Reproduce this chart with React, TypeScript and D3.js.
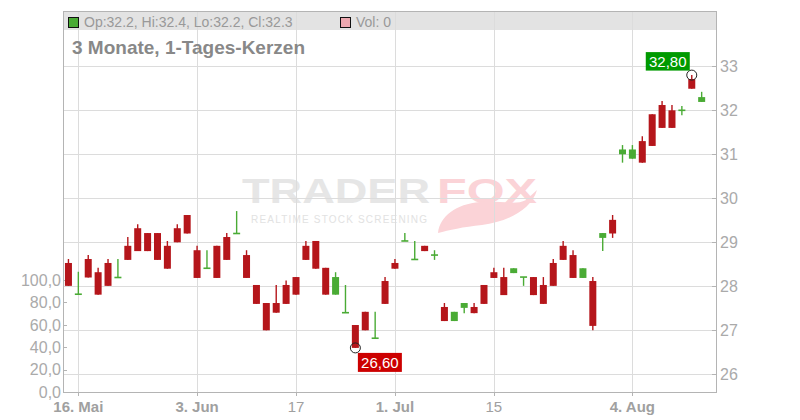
import React from 'react';
import * as d3 from 'd3';

const dates = [
  '2025-05-15','2025-05-16','2025-05-19','2025-05-20','2025-05-21','2025-05-22','2025-05-23','2025-05-26','2025-05-27','2025-05-28','2025-05-29','2025-05-30',
  '2025-06-02','2025-06-03','2025-06-04','2025-06-05','2025-06-06','2025-06-09','2025-06-10','2025-06-11','2025-06-12','2025-06-13','2025-06-16','2025-06-17',
  '2025-06-18','2025-06-19','2025-06-20','2025-06-23','2025-06-24','2025-06-25','2025-06-26','2025-06-27','2025-06-30','2025-07-01',
  '2025-07-02','2025-07-03','2025-07-04','2025-07-07','2025-07-08','2025-07-09','2025-07-10','2025-07-11','2025-07-14','2025-07-15',
  '2025-07-16','2025-07-17','2025-07-18','2025-07-21','2025-07-22','2025-07-23','2025-07-24','2025-07-25','2025-07-28','2025-07-29',
  '2025-07-30','2025-07-31','2025-08-01','2025-08-04','2025-08-05','2025-08-06','2025-08-07','2025-08-08','2025-08-11','2025-08-12','2025-08-13'
];
const opens = [
  28.53,27.82,28.62,28.32,28.53,28.20,28.92,29.32,29.21,29.21,28.92,29.32,
  29.62,28.82,28.41,28.92,29.12,29.20,28.71,28.03,27.62,27.62,28.03,28.21,
  28.92,29.03,28.42,27.81,27.40,27.12,27.42,26.82,28.12,28.53,
  29.03,28.61,28.92,28.71,27.53,27.21,27.51,27.53,28.03,28.32,
  28.21,28.30,28.21,28.21,28.03,28.53,28.92,28.71,28.19,28.12,
  29.10,29.51,31.00,30.90,31.30,31.91,32.12,32.00,32.00,32.71,32.19
];
const highs = [
  28.62,28.33,28.71,28.42,28.62,28.62,29.12,29.41,29.21,29.21,29.03,29.41,
  29.62,28.92,28.82,28.92,29.21,29.71,28.82,28.03,27.62,28.03,28.13,28.21,
  29.03,29.03,28.42,28.32,28.03,27.12,27.42,27.42,28.21,28.62,
  29.21,29.03,28.92,28.82,27.62,27.42,27.62,27.62,28.03,28.42,
  28.42,28.41,28.21,28.21,28.21,28.62,29.03,28.82,28.41,28.21,
  29.21,29.62,31.21,31.21,31.41,31.91,32.21,32.12,32.10,32.80,32.42
];
const lows = [
  28.01,27.82,28.20,27.81,28.01,28.20,28.60,28.80,28.80,28.60,28.40,29.00,
  29.20,28.19,28.41,28.19,28.60,29.20,28.19,27.60,27.00,27.40,27.60,27.81,
  28.60,28.40,27.81,27.81,27.40,26.60,27.00,26.82,27.60,28.40,
  29.03,28.61,28.80,28.60,27.21,27.21,27.39,27.39,27.60,28.19,
  27.80,28.30,28.01,27.80,27.60,28.01,28.60,28.19,28.19,27.00,
  28.80,29.10,30.81,30.90,30.81,31.19,31.60,31.60,31.89,32.49,32.19
];
const closes = [
  28.01,27.82,28.20,27.81,28.01,28.20,28.60,28.80,28.80,28.60,28.40,29.00,
  29.20,28.19,28.41,28.19,28.60,29.20,28.19,27.60,27.00,27.40,27.60,27.81,
  28.60,28.40,27.81,28.21,27.40,26.60,27.00,26.82,27.60,28.40,
  29.03,28.61,28.80,28.71,27.21,27.42,27.62,27.39,27.60,28.19,
  27.80,28.41,28.21,27.80,27.60,28.01,28.60,28.19,28.41,27.10,
  29.21,29.20,31.11,31.11,30.81,31.19,31.60,31.60,32.00,32.49,32.30
];

const xTickDates = ['2025-05-16','2025-06-03','2025-06-17','2025-07-01','2025-07-15','2025-08-04'];
const xTickLabels = ['16. Mai','3. Jun','17','1. Jul','15','4. Aug'];
const xTickBold = [true, true, false, true, false, true];
const priceTicks = [26, 27, 28, 29, 30, 31, 32, 33];
const volTicks = [0, 20, 40, 60, 80, 100];
const headerText = 'Op:32.2, Hi:32.4, Lo:32.2, Cl:32.3';
const volText = 'Vol: 0';
const titleText = '3 Monate, 1-Tages-Kerzen';

const RED = '#b5161b';
const GREEN = '#4aab35';
const GRID = '#dcdcdc';
const AXIS = '#b4b4b4';
const FONT = '"Liberation Sans", Arial, Helvetica, sans-serif';

const fmt = (v: number) => v.toFixed(2).replace('.', ',');

export default function App() {
  const left = 63.5, right = 716.5, top = 12, bottom = 392;
  const x = d3.scaleBand<string>().domain([...dates, 'next']).range([left, right]).padding(0);
  const bw = x.bandwidth();
  const cx = (d: string) => (x(d) as number) + bw / 2;
  const y = d3.scaleLinear().domain([26, 33]).range([374.3, 66.3]);
  const yv = d3.scaleLinear().domain([0, 100]).range([392, 280]);

  const hiIdx = d3.maxIndex(highs);
  const loIdx = d3.minIndex(lows);
  const hx = cx(dates[hiIdx]), hy = y(highs[hiIdx]);
  const lx = cx(dates[loIdx]), ly = y(lows[loIdx]);
  const candleW = 7;

  return (
    <svg width={800} height={420} style={{ position: 'absolute', left: 0, top: 0, background: '#fff' }} fontFamily={FONT}>
      {/* watermark */}
      <g>
        <text x={242} y={203} fontSize={35} fontWeight="bold" fill="#e6e6e6" textLength={188} lengthAdjust="spacingAndGlyphs">TRADER</text>
        <text x={437} y={203} fontSize={35} fontWeight="bold" fill="#fbd3d7" textLength={100} lengthAdjust="spacingAndGlyphs">FOX</text>
        <path d="M438 233 C 440 216, 456 204, 480 202 C 500 200, 515 206, 526 200 L 537 190 C 531 210, 507 222, 482 225 C 463 227, 449 230, 438 233 Z" fill="#fbd3d7" />
        <text x={251} y={223} fontSize={10} fill="#e2e2e2" textLength={176} lengthAdjust="spacing">REALTIME STOCK SCREENING</text>
      </g>

      {/* header band */}
      <rect x={63} y={top} width={right - 63} height={18} fill="#e3e3e3" />

      {/* grid */}
      {priceTicks.map(t => (
        <line key={'g' + t} x1={63} x2={right} y1={Math.round(y(t)) + 0.5} y2={Math.round(y(t)) + 0.5} stroke={GRID} strokeWidth={1} />
      ))}
      {xTickDates.map(d => (
        <line key={'v' + d} x1={Math.round(cx(d)) + 0.5} x2={Math.round(cx(d)) + 0.5} y1={top} y2={bottom} stroke={GRID} strokeWidth={1} />
      ))}

      {/* frame */}
      <line x1={63} x2={right} y1={top - 0.5} y2={top - 0.5} stroke={AXIS} />
      <line x1={63.5} x2={63.5} y1={top - 1} y2={bottom + 0.5} stroke={AXIS} />
      <line x1={716.5} x2={716.5} y1={top - 1} y2={bottom + 0.5} stroke={AXIS} />
      <line x1={63} x2={717} y1={bottom + 0.5} y2={bottom + 0.5} stroke={AXIS} />

      {/* header */}
      <rect x={68.5} y={17.5} width={10} height={10} fill={GREEN} stroke="#111" strokeWidth={1} />
      <text x={84} y={27} fontSize={14} fill="#999">{headerText}</text>
      <rect x={340.5} y={17.5} width={10} height={10} fill="#eda8b0" stroke="#111" strokeWidth={1} />
      <text x={356} y={27} fontSize={14} fill="#999">{volText}</text>
      <text x={72} y={54} fontSize={19} fontWeight="bold" fill="#888">{titleText}</text>

      {/* right price axis */}
      {priceTicks.map(t => (
        <g key={'p' + t}>
          <line x1={712} x2={716} y1={Math.round(y(t)) + 0.5} y2={Math.round(y(t)) + 0.5} stroke={AXIS} />
          <text x={720} y={y(t)} dy="0.36em" fontSize={16} fill="#aaa">{t}</text>
        </g>
      ))}

      {/* left volume axis */}
      {volTicks.map(t => (
        <g key={'vo' + t}>
          <line x1={63} x2={67} y1={Math.round(yv(t)) + 0.5} y2={Math.round(yv(t)) + 0.5} stroke={AXIS} />
          <text x={61} y={yv(t)} dy="0.36em" fontSize={16} fill="#aaa" textAnchor="end">{t.toFixed(1).replace('.', ',')}</text>
        </g>
      ))}

      {/* x axis */}
      {xTickDates.map((d, i) => (
        <g key={'x' + d}>
          <line x1={Math.round(cx(d)) + 0.5} x2={Math.round(cx(d)) + 0.5} y1={bottom} y2={bottom + 4} stroke={AXIS} />
          <text x={cx(d)} y={412} fontSize={15} fontWeight={xTickBold[i] ? 'bold' : 'normal'} fill="#a0a0a0" textAnchor="middle">{xTickLabels[i]}</text>
        </g>
      ))}

      {/* candles */}
      {dates.map((d, i) => {
        const o = opens[i], c = closes[i], h = highs[i], l = lows[i];
        const col = c >= o ? GREEN : RED;
        const c0 = cx(d);
        const yt = y(Math.max(o, c)), yb = y(Math.min(o, c));
        const bh = Math.max(1.6, yb - yt);
        return (
          <g key={d}>
            <line x1={c0} x2={c0} y1={y(h)} y2={y(l)} stroke={col} strokeWidth={1.4} />
            <rect x={c0 - candleW / 2} y={bh === 1.6 ? yt - 0.8 : yt} width={candleW} height={bh} fill={col} />
          </g>
        );
      })}

      {/* high / low markers */}
      <circle cx={hx} cy={hy} r={5} fill="none" stroke="#222" strokeWidth={1} />
      <rect x={hx - 46} y={hy - 23} width={44} height={18.5} fill="#009a00" />
      <text x={hx - 24} y={hy - 13.75} dy="0.36em" fontSize={15} fill="#fff" textAnchor="middle">{fmt(highs[hiIdx])}</text>
      <circle cx={lx} cy={ly} r={5} fill="none" stroke="#222" strokeWidth={1} />
      <rect x={lx + 2.5} y={ly + 5} width={44} height={19} fill="#cc0000" />
      <text x={lx + 24.5} y={ly + 14.5} dy="0.36em" fontSize={15} fill="#fff" textAnchor="middle">{fmt(lows[loIdx])}</text>
    </svg>
  );
}
